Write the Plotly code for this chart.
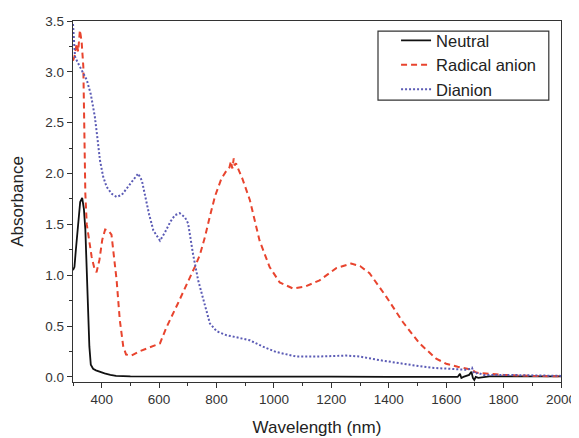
import plotly.graph_objects as go

# Neutral
neutral_x = [300, 305, 310, 318, 325, 332, 338, 343, 347, 352, 357, 362, 370, 380, 394, 410, 430, 450, 500, 600, 800, 1000, 1200, 1400, 1600, 1640, 1648, 1653, 1660, 1680, 1688, 1693, 1698, 1703, 1712, 1750, 1800, 2000]
neutral_y = [1.05, 1.08, 1.25, 1.55, 1.72, 1.76, 1.65, 1.45, 1.12, 0.7, 0.3, 0.12, 0.08, 0.065, 0.05, 0.035, 0.02, 0.01, 0.005, 0.005, 0.008, 0.003, 0.003, 0.0, 0.0, 0.0, 0.03, -0.01, 0.0, 0.02, 0.05, -0.01, -0.03, 0.0, -0.01, 0.005, 0.005, 0.005]

# Radical anion
radical_x = [300, 305, 313, 318, 324, 330, 336, 340, 343, 348, 355, 365, 375, 382, 392, 402, 412, 423, 434, 445, 452, 463, 475, 485, 504, 530, 556, 580, 603, 626, 648, 665, 683, 700, 724, 742, 760, 776, 795, 817, 835, 845, 850, 855, 860, 863, 868, 875, 890, 916, 950, 985, 1020, 1066, 1110, 1159, 1217, 1269, 1300, 1333, 1391, 1449, 1507, 1565, 1600, 1640, 1660, 1680, 1690, 1700, 1710, 1750, 1800, 1900, 2000]
radical_y = [3.11, 3.15, 3.28, 3.2, 3.41, 3.3, 3.05, 2.4, 1.8, 1.5, 1.35, 1.18, 1.06, 1.03, 1.15, 1.35, 1.45, 1.44, 1.4, 1.1, 0.95, 0.56, 0.30, 0.22, 0.21, 0.25, 0.28, 0.30, 0.33, 0.49, 0.63, 0.72, 0.83, 0.93, 1.08, 1.2, 1.38, 1.57, 1.78, 1.95, 2.03, 2.06, 2.12, 2.05, 2.15, 2.08, 2.1, 2.05, 1.95, 1.74, 1.34, 1.08, 0.93, 0.87, 0.89, 0.95, 1.07, 1.115, 1.09, 1.02, 0.79, 0.54, 0.33, 0.18, 0.13, 0.10, 0.09, 0.08, 0.07, 0.05, 0.04, 0.03, 0.02, 0.01, 0.005]

# Dianion
dianion_x = [300, 307, 315, 324, 335, 348, 362, 376, 385, 394, 405, 417, 435, 452, 470, 490, 510, 527, 540, 556, 565, 580, 603, 620, 640, 655, 672, 690, 701, 718, 736, 760, 777, 800, 835, 870, 916, 960, 1008, 1078, 1150, 1252, 1300, 1368, 1420, 1484, 1550, 1600, 1647, 1670, 1685, 1690, 1695, 1700, 1710, 1730, 1800, 1900, 2000]
dianion_y = [3.47, 3.15, 3.1, 3.05, 2.98, 2.92, 2.78, 2.56, 2.35, 2.13, 1.97, 1.87, 1.8, 1.77, 1.79, 1.86, 1.94, 2.0, 1.93, 1.72, 1.6, 1.44, 1.34, 1.42, 1.53, 1.59, 1.61, 1.57, 1.51, 1.21, 0.95, 0.7, 0.525, 0.45, 0.41, 0.39, 0.36, 0.3, 0.245, 0.2, 0.2, 0.21, 0.2, 0.165, 0.14, 0.115, 0.09, 0.08, 0.07, 0.07, 0.08, 0.09, 0.05, 0.03, 0.04, 0.02, 0.02, 0.015, 0.01]

x_ticks = [400, 600, 800, 1000, 1200, 1400, 1600, 1800, 2000]
y_ticks = [0.0, 0.5, 1.0, 1.5, 2.0, 2.5, 3.0, 3.5]

fig = go.Figure()
fig.add_trace(go.Scatter(x=neutral_x, y=neutral_y, mode="lines", name="Neutral",
                         line=dict(color="#111111", width=1.8)))
fig.add_trace(go.Scatter(x=radical_x, y=radical_y, mode="lines", name="Radical anion",
                         line=dict(color="#e8442e", width=2, dash="6px,4px")))
fig.add_trace(go.Scatter(x=dianion_x, y=dianion_y, mode="lines", name="Dianion",
                         line=dict(color="#5b5bb5", width=2, dash="2px,2px")))

axis_font = dict(family="Liberation Sans, Arial, sans-serif", size=13.5, color="#333333")
title_font = dict(family="Liberation Sans, Arial, sans-serif", size=17, color="#222222")

# legend frame (page has 8px body margin; figure is sized to compensate)
fig.add_shape(type="rect", xref="paper", yref="paper",
              x0=0.625, x1=0.975, y0=0.781, y1=0.972,
              line=dict(color="#333333", width=1.2), fillcolor="white", layer="below")

fig.update_layout(
    width=571, height=430,
    margin=dict(l=65, r=18, t=13, b=56, autoexpand=False),
    paper_bgcolor="white", plot_bgcolor="white",
    showlegend=True,
    legend=dict(x=0.662, y=0.994, xanchor="left", yanchor="top",
                borderwidth=0, bgcolor="rgba(0,0,0,0)",
                font=dict(family="Liberation Sans, Arial, sans-serif", size=16.5, color="#222222"),
                tracegroupgap=0),
    xaxis=dict(range=[300, 2000], tickvals=x_ticks, ticks="outside", ticklen=5, tickwidth=1.2,
               tickcolor="#333333", showline=True, linecolor="#333333", linewidth=1.3, mirror=True,
               showgrid=False, zeroline=False, tickfont=axis_font, automargin=False,
               minor=dict(dtick=100, tick0=300, ticks="outside", ticklen=3, tickcolor="#333333", showgrid=False),
               title=dict(text="Wavelength (nm)", font=title_font, standoff=14)),
    yaxis=dict(range=[-0.05, 3.5], tickvals=y_ticks, tickformat=".1f", ticks="outside", ticklen=5, tickwidth=1.2,
               tickcolor="#333333", showline=True, linecolor="#333333", linewidth=1.3, mirror=True,
               showgrid=False, zeroline=False, tickfont=axis_font, automargin=False,
               minor=dict(dtick=0.25, tick0=0, ticks="outside", ticklen=3, tickcolor="#333333", showgrid=False),
               title=dict(text="Absorbance", font=title_font, standoff=18)),
)

fig.write_html("out.html")
